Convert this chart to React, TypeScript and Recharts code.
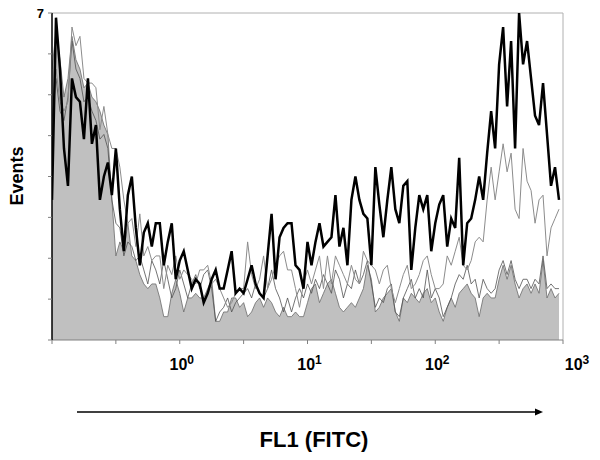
import { ComposedChart, Area, Line, XAxis, YAxis, ReferenceLine } from 'recharts';

const font = '"Liberation Sans", Arial, sans-serif';

// FL1 channels, 32 per decade starting at 10^-1
const channelsPerDecade = 32;
const firstDecade = -1;

// gray filled histogram (control)
const control = [
  5.8, 6.6, 6.0, 5.2, 5.6, 6.5, 6.0, 5.8, 5.4, 5.5,
  5.2, 5.1, 4.9, 4.6, 4.4, 3.0, 1.8, 2.1, 1.9, 2.5,
  1.8, 1.7, 1.4, 1.2, 1.1, 1.2, 1.2, 0.9, 0.5, 0.5,
  1.0, 1.3, 1.0, 0.6, 0.9, 0.9, 1.0, 0.9, 0.9, 1.1,
  1.3, 0.4, 0.4, 0.6, 0.6, 0.9, 0.9, 0.7, 0.8, 0.5,
  0.6, 0.8, 0.9, 0.7, 0.9, 0.8, 0.6, 0.5, 0.7, 0.5,
  0.5, 0.6, 0.5, 0.5, 0.8, 1.1, 1.2, 0.8, 1.0, 1.2,
  1.3, 1.0, 0.7, 0.6, 0.7, 0.8, 0.7, 0.9, 1.1, 1.6,
  1.3, 0.6, 0.7, 0.9, 1.0, 1.1, 0.6, 0.4, 0.9, 0.8,
  1.0, 0.9, 0.8, 1.0, 1.1, 0.8, 0.9, 0.6, 0.4, 0.7,
  0.9, 0.7, 1.0, 1.1, 1.2, 1.0, 0.9, 0.5, 0.9, 1.0,
  0.9, 0.9, 1.3, 1.6, 1.3, 1.6, 1.2, 0.9, 1.1, 1.2,
  1.0, 1.2, 1.0, 1.7, 0.9, 1.1, 0.9, 1.0,
];

// thin dark line
const sampleLow = [
  4.7, 5.6, 4.9, 4.7, 5.2, 6.4, 5.8, 5.6, 5.1, 5.2,
  4.9, 4.7, 4.3, 4.4, 4.1, 3.0, 2.5, 2.4, 1.8, 2.1,
  2.0, 1.7, 1.8, 1.5, 1.2, 1.7, 1.5, 1.2, 1.7, 1.3,
  0.9, 1.1, 1.5, 1.2, 0.9, 1.2, 1.4, 1.1, 1.4, 1.5,
  1.1, 0.4, 0.6, 0.7, 0.9, 0.6, 0.8, 0.9, 1.0, 1.1,
  0.9, 1.2, 1.0, 0.9, 1.1, 1.5, 1.1, 0.9, 0.6, 0.9,
  0.6, 0.9, 1.1, 0.9, 1.2, 1.0, 1.3, 1.1, 1.4, 1.2,
  1.0, 1.5, 1.3, 0.9, 1.2, 1.1, 1.5, 1.2, 1.4, 1.7,
  1.2, 0.7, 0.9, 0.8, 1.1, 1.2, 0.6, 0.5, 0.9, 1.1,
  1.3, 0.9, 1.1, 0.9, 1.5, 0.9, 1.1, 0.9, 0.5, 0.7,
  0.9, 1.2, 1.4, 1.3, 1.6, 1.2, 1.3, 0.9, 1.3, 1.1,
  1.0, 1.1, 1.5, 1.7, 1.4, 1.7, 1.3, 1.1, 1.3, 1.3,
  1.1, 1.3, 1.2, 1.8, 1.1, 1.2, 1.1, 1.1,
];

// thin gray line
const sampleMid = [
  4.3, 5.8, 5.1, 4.9, 5.1, 6.7, 6.3, 6.5, 5.6, 5.5,
  5.5, 5.4, 4.5, 5.0, 4.4, 4.1, 4.1, 3.7, 3.0, 2.5,
  2.6, 2.0, 2.7, 1.8, 2.0, 1.7, 1.8, 1.8, 1.1, 1.6,
  1.4, 1.8, 1.3, 1.5, 1.4, 1.3, 1.2, 1.5, 1.5, 1.6,
  1.2, 1.3, 1.1, 0.9, 0.7, 0.8, 1.0, 1.1, 1.1, 2.1,
  1.4, 1.1, 1.3, 1.8, 1.1, 1.3, 1.6, 1.8, 1.9, 1.5,
  1.5, 1.1, 0.7, 1.2, 1.5, 1.2, 1.5, 1.8, 1.1, 1.8,
  1.2, 1.8, 1.6, 1.4, 1.2, 1.6, 1.3, 1.2, 1.9, 1.7,
  1.6, 1.5, 1.2, 1.5, 1.6, 1.1, 0.8, 1.1, 1.4, 1.6,
  1.1, 1.2, 1.4, 1.7, 1.8, 1.4, 1.1, 1.1, 1.2, 1.8,
  1.6, 1.9, 2.2, 1.6, 1.5, 1.7, 2.1, 2.2, 2.1, 3.0,
  3.7, 3.0, 3.6, 4.2, 3.6, 4.0, 2.8, 2.6, 4.1, 3.4,
  3.2, 2.5, 3.0, 3.1, 1.8, 2.4, 2.6, 2.8,
];

// thick black line
const sampleHigh = [
  3.0, 6.9, 5.8, 4.1, 3.3, 5.6, 5.2, 5.1, 4.3, 5.6,
  4.2, 4.6, 3.0, 3.5, 3.8, 3.1, 4.1, 2.8, 1.9, 3.1,
  3.5, 2.4, 1.6, 2.3, 2.5, 2.0, 2.5, 2.5, 1.6, 2.1,
  2.5, 1.3, 1.7, 1.9, 1.5, 1.1, 1.3, 1.2, 0.8, 1.0,
  1.3, 1.5, 1.1, 1.1, 1.5, 1.9, 1.0, 1.1, 1.0, 1.3,
  1.6, 1.2, 1.0, 0.9, 1.8, 2.7, 1.3, 2.2, 2.4, 2.5,
  2.5, 1.6, 1.5, 1.1, 2.1, 1.6, 2.1, 2.5, 2.0, 2.1,
  2.2, 3.1, 2.0, 2.4, 1.6, 3.0, 3.5, 3.0, 2.7, 2.6,
  1.6, 3.7, 2.9, 2.2, 3.0, 3.7, 2.8, 2.5, 3.3, 3.4,
  1.5, 2.4, 3.1, 2.8, 3.1, 1.9, 2.5, 2.9, 3.1, 2.0,
  2.6, 2.4, 3.9, 1.6, 2.5, 2.6, 3.0, 3.5, 3.0, 4.0,
  4.9, 4.1, 5.9, 6.7, 5.0, 6.4, 4.1, 7.0, 5.9, 6.4,
  5.6, 4.8, 4.6, 5.5, 4.4, 3.3, 3.7, 3.0,
];

const xTicks = [0.1, 0.3162, 1, 3.162, 10, 31.62, 100, 316.2, 1000];
const yTicks = [0, 0.875, 1.75, 2.625, 3.5, 4.375, 5.25, 6.125, 7];
const decadeLabels: Record<number, string> = { 1: '0', 10: '1', 100: '2', 1000: '3' };

const data = control.map((c, i) => ({
  fl: 10 ** (firstDecade + i / channelsPerDecade),
  control: c,
  low: sampleLow[i],
  mid: sampleMid[i],
  high: sampleHigh[i],
}));

function DecadeTick(props: any) {
  const { x, y, payload } = props;
  const exp = decadeLabels[payload.value];
  if (exp === undefined) return <g />;
  const shift = payload.value === 1000 ? 14 : 2;
  return (
    <text x={x + shift} y={y + 24} textAnchor="middle" fontFamily={font} fontWeight="bold" fontSize={16} fill="#000">
      <tspan>10</tspan>
      <tspan dy={-6} fontSize={12}>{exp}</tspan>
    </text>
  );
}

function EventsTick(props: any) {
  const { x, y, payload } = props;
  if (payload.value !== 7) return <g />;
  return (
    <text x={x} y={y + 5} textAnchor="end" fontFamily={font} fontWeight="bold" fontSize={13} fill="#000">
      7
    </text>
  );
}

function XTitle() {
  return (
    <g>
      <line x1={77} y1={412} x2={536} y2={412} stroke="#000" strokeWidth={1.5} />
      <polygon points="543,412 535,408.5 535,415.5" fill="#000" />
      <text x={314} y={447} textAnchor="middle" fontFamily={font} fontWeight="bold" fontSize={22} fill="#000">
        FL1 (FITC)
      </text>
    </g>
  );
}

function YTitle() {
  return (
    <text
      x={23}
      y={176}
      transform="rotate(-90 23 176)"
      textAnchor="middle"
      fontFamily={font}
      fontWeight="bold"
      fontSize={18}
      fill="#000"
    >
      Events
    </text>
  );
}

export default function App() {
  return (
    <div style={{ position: 'absolute', left: 0, top: 0, width: 600, height: 460, background: '#fff' }}>
      <ComposedChart width={600} height={460} data={data} margin={{ top: 13, right: 37, left: 0, bottom: 90 }}>
        <XAxis
          dataKey="fl"
          type="number"
          scale="log"
          domain={[0.1, 1000]}
          ticks={xTicks}
          interval={0}
          allowDataOverflow
          tick={<DecadeTick />}
          tickSize={4}
          tickMargin={2}
          height={30}
          stroke="#808080"
          label={<XTitle />}
        />
        <YAxis
          type="number"
          domain={[0, 7]}
          ticks={yTicks}
          interval={0}
          width={52}
          tick={<EventsTick />}
          tickSize={4}
          tickMargin={4}
          axisLine={{ stroke: '#000', strokeWidth: 1.5 }}
          tickLine={{ stroke: '#808080' }}
          label={<YTitle />}
        />
        <ReferenceLine y={7} stroke="#b0b0b0" />
        <ReferenceLine x={1000} stroke="#b0b0b0" />
        <Area
          dataKey="control"
          type="linear"
          baseValue={0}
          fill="#c0c0c0"
          fillOpacity={1}
          stroke="#6a6a6a"
          strokeWidth={0.8}
          dot={false}
          activeDot={false}
          isAnimationActive={false}
        />
        <Line dataKey="low" type="linear" stroke="#505050" strokeWidth={0.8} dot={false} activeDot={false} isAnimationActive={false} />
        <Line dataKey="mid" type="linear" stroke="#8c8c8c" strokeWidth={1} dot={false} activeDot={false} isAnimationActive={false} />
        <Line dataKey="high" type="linear" stroke="#000" strokeWidth={2.5} dot={false} activeDot={false} isAnimationActive={false} />
      </ComposedChart>
    </div>
  );
}
